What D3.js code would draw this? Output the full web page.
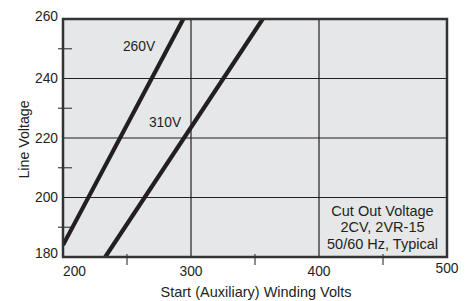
<!DOCTYPE html>
<html><head><meta charset="utf-8">
<script src="https://cdn.jsdelivr.net/npm/d3@7"></script>
<style>body{margin:0;background:#fff}svg{display:block}text{font-family:"Liberation Sans",Arial,sans-serif;fill:#231f20}</style>
</head><body><svg id="c" width="473" height="301"></svg>
<script>
const xTicks = [200, 300, 400, 500];
const yTicks = [180, 200, 220, 240, 260];
const xMinor = [250, 350, 450];
const yMinor = [190, 210, 230, 250];
const seriesNames = ["260V", "310V"];
const s260x = [200, 294];
const s260y = [184, 260];
const s310x = [233, 356];
const s310y = [180, 260];
const noteLines = ["Cut Out Voltage", "2CV, 2VR-15", "50/60 Hz, Typical"];

const m = {l:63, r:447, t:19, b:257};
const svg = d3.select("#c");
const x = d3.scaleLinear().domain([200,500]).range([m.l,m.r]);
const y = d3.scaleLinear().domain([180,260]).range([m.b,m.t]);
const ink = "#231f20";

svg.append("rect").attr("x",m.l).attr("y",m.t).attr("width",m.r-m.l).attr("height",m.b-m.t).attr("fill","#e6e7e8");

// gridlines
svg.append("g").selectAll("line").data(xTicks.slice(1,-1)).join("line")
  .attr("x1",d=>x(d)).attr("x2",d=>x(d)).attr("y1",m.t).attr("y2",m.b).attr("stroke",ink).attr("stroke-width",1.2);
svg.append("g").selectAll("line").data(yTicks.slice(1,-1)).join("line")
  .attr("y1",d=>y(d)).attr("y2",d=>y(d)).attr("x1",m.l).attr("x2",m.r).attr("stroke",ink).attr("stroke-width",1.2);

// minor ticks
svg.append("g").selectAll("line").data(yMinor).join("line")
  .attr("y1",d=>y(d)).attr("y2",d=>y(d)).attr("x1",m.l-5).attr("x2",m.l+9).attr("stroke","#444").attr("stroke-width",1.2);
svg.append("g").selectAll("line").data(xMinor).join("line")
  .attr("x1",d=>x(d)).attr("x2",d=>x(d)).attr("y1",m.b-3).attr("y2",m.b+8).attr("stroke","#444").attr("stroke-width",1.2);

// data lines
svg.append("clipPath").attr("id","pc").append("rect").attr("x",m.l).attr("y",m.t).attr("width",m.r-m.l).attr("height",m.b-m.t);
const line = d3.line().x(d=>x(d[0])).y(d=>y(d[1]));
const series = [d3.zip(s260x,s260y), d3.zip(s310x,s310y)];
svg.append("g").attr("clip-path","url(#pc)").selectAll("path").data(series).join("path")
  .attr("d",line).attr("fill","none").attr("stroke",ink).attr("stroke-width",4.2);

// border
svg.append("rect").attr("x",m.l).attr("y",m.t).attr("width",m.r-m.l).attr("height",m.b-m.t)
  .attr("fill","none").attr("stroke","#333").attr("stroke-width",2.5);

// tick labels
const yOff = {260:-3,240:0,220:0,200:0,180:-4};
svg.append("g").selectAll("text").data(yTicks).join("text")
  .attr("x",58).attr("y",d=>y(d)+yOff[d]).attr("dy","0.36em").attr("text-anchor","end")
  .style("font-size","13.8px").text(d=>d);
svg.append("g").selectAll("text").data(xTicks).join("text")
  .attr("x",d=>x(d)).attr("y",d=>d===500?268:271).attr("dy","0.36em")
  .attr("text-anchor",d=>d===200?"start":"middle")
  .style("font-size","13.8px").text(d=>d);

// series labels
svg.append("text").attr("x",x(259.4)).attr("y",y(251)).attr("dy","0.36em").attr("text-anchor","middle").style("font-size","13.8px").text(seriesNames[0]);
svg.append("text").attr("x",x(279.7)).attr("y",y(225.5)).attr("dy","0.36em").attr("text-anchor","middle").style("font-size","13.8px").text(seriesNames[1]);

// axis titles
svg.append("text").attr("x",256).attr("y",292).attr("dy","0.36em").attr("text-anchor","middle").style("font-size","14.5px").text("Start (Auxiliary) Winding Volts");
svg.append("text").attr("transform","translate(29,139.5) rotate(-90)").attr("text-anchor","middle").style("font-size","14.2px").text("Line Voltage");

// note
svg.append("g").selectAll("text").data(noteLines).join("text")
  .attr("x",382.5).attr("y",(d,i)=>211+i*16.2).attr("dy","0.36em").attr("text-anchor","middle")
  .style("font-size","14.5px").text(d=>d);
</script></body></html>
